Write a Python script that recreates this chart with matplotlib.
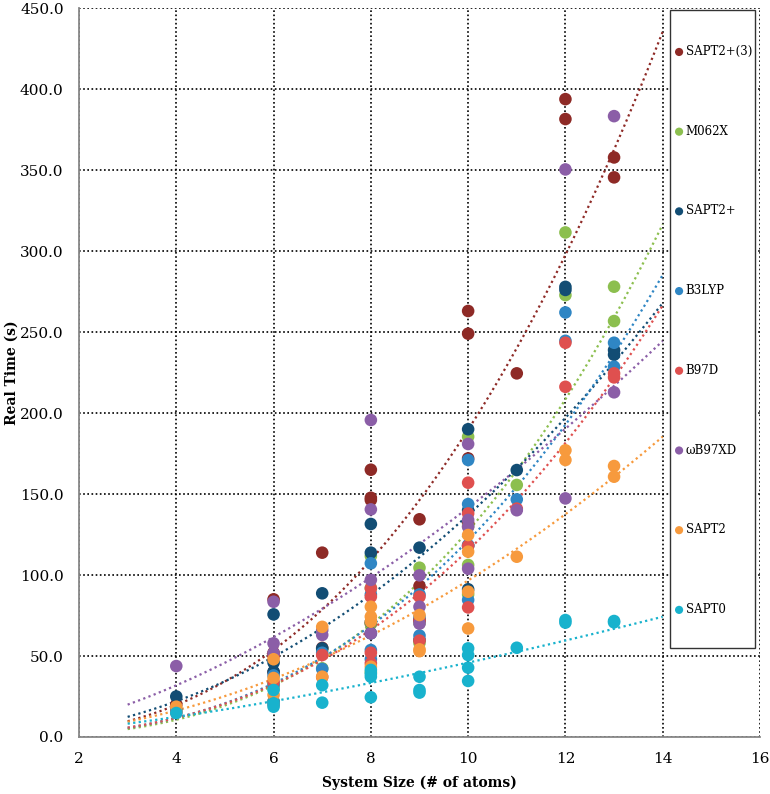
import numpy as np
import matplotlib.pyplot as plt
import matplotlib as mpl
from matplotlib.patches import Rectangle

mpl.rcParams["font.family"] = ["DejaVu Serif"]

# system sizes (x) and real times (y) per method
methods = ["SAPT2+(3)", "M062X", "SAPT2+", "B3LYP", "B97D", "\u03c9B97XD", "SAPT2", "SAPT0"]
colors = ["#8e2a26", "#8cbf4f", "#124d74", "#2f86c4", "#df504f", "#8b5ea7", "#f79a3d", "#18b2cd"]

sizes = [4, 6, 6, 6, 7, 7, 8, 8, 8, 8, 9, 9, 9, 10, 10, 10, 10, 11, 12, 12, 13, 13]

sapt2p3 = [20, 85, 52, 40, 113.8, 55, 165, 147.7, 146.3, 70, 134.4, 93.2, 72,
           263, 249, 172, 132, 224.5, 393.8, 381.5, 357.8, 345.5]
m062x = [16, 33, 30, 22, 54, 42.4, 111.7, 92, 70, 40, 104.5, 70.2, 58,
         185.4, 130, 106.2, 88, 155.6, 311.5, 272.8, 278, 256.8]
sapt2p = [25, 75.7, 45.9, 40.3, 88.7, 54.7, 131.5, 113.8, 71, 64, 116.9, 72.2, 60,
          190, 140, 118, 91.2, 164.8, 277.9, 276, 238.9, 236]
b3lyp = [17, 38, 32, 22, 52, 42, 107.2, 88, 53.7, 48, 88, 74, 62.6,
         171, 143.8, 118.5, 84.6, 146.7, 262.1, 244.6, 243.4, 228.6]
b97d = [15, 50, 34, 20, 50.6, 37, 91.8, 86.6, 52, 45.5, 86.6, 72, 59.5,
        157, 138, 118, 80, 141, 243.4, 216.2, 224.5, 222]
wb97xd = [43.8, 83.5, 57.8, 51.8, 66, 63, 195.7, 140.5, 97, 64, 99.8, 80.4, 70,
          180.9, 134, 129.8, 103.9, 140, 350.4, 147.3, 383.3, 212.8]
sapt2 = [18.7, 48, 36.4, 26, 68, 37.2, 80.4, 74.3, 71.2, 43.4, 75.3, 54.1, 53,
         124.7, 114.4, 89.7, 67, 111.3, 177, 171, 167.3, 160.7]
sapt0 = [14.8, 29, 20.8, 18.7, 32, 21.2, 41.4, 39, 37.2, 24.5, 37.2, 29, 27.4,
         54.7, 50.6, 42.8, 34.6, 55.1, 72.2, 70.6, 71.6, 70.8]

series = [sapt2p3, m062x, sapt2p, b3lyp, b97d, wb97xd, sapt2, sapt0]

fig = plt.figure(figsize=(7.7, 7.94), dpi=100)
ax = fig.add_axes([0.1026, 0.0718, 0.8844, 0.918])

x = np.array(sizes, dtype=float)
xfit = np.linspace(3, 14, 200)
handles = []
for name, col, ys in zip(methods, colors, series):
    ys = np.array(ys, dtype=float)
    h = ax.scatter(x, ys, s=82, color=col, edgecolors="none", zorder=3, label=name)
    handles.append(h)
    # power-law trendline fitted to the points
    p, lna = np.polyfit(np.log(x), np.log(ys), 1)
    ax.plot(xfit, np.exp(lna) * xfit ** p, linestyle=(0, (1, 1.5)),
            color=col, linewidth=1.6, zorder=2)

ax.set_xlim(2, 16)
ax.set_ylim(0, 450)
ax.set_xticks(np.arange(2, 17, 2))
ax.set_yticks(np.arange(0, 451, 50))
ax.yaxis.set_major_formatter(mpl.ticker.FormatStrFormatter("%.1f"))
ax.tick_params(length=0, labelsize=11)
ax.tick_params(axis="y", pad=11)
ax.tick_params(axis="x", pad=11)
ax.grid(True, color="black", linestyle=(0, (1, 1.5)), linewidth=1.2, zorder=0)
ax.set_axisbelow(True)
for s in ("top", "right"):
    ax.spines[s].set_visible(False)
for s in ("left", "bottom"):
    ax.spines[s].set_color("#888888")
    ax.spines[s].set_linewidth(1.3)

ax.set_xlabel("System Size (# of atoms)", fontweight="bold", fontsize=10)
ax.set_ylabel("Real Time (s)", fontweight="bold", fontsize=10)
ax.xaxis.set_label_coords(0.5, -0.053)
ax.yaxis.set_label_coords(-0.088, 0.5)

# legend frame drawn as its own box, entries spread down it
x0, y0, x1, y1 = 0.868, 0.122, 0.9927, 0.9973
ax.add_patch(Rectangle((x0, y0), x1 - x0, y1 - y0, transform=ax.transAxes,
                       facecolor="white", edgecolor="#333333", linewidth=1.0, zorder=4))
leg = ax.legend(handles=handles, loc="center", bbox_to_anchor=((x0 + x1) / 2, (y0 + y1) / 2 - 0.002),
                frameon=False, fontsize=8.5, labelspacing=5.65,
                handletextpad=0.05, handlelength=1.0, borderpad=0.2,
                markerscale=0.65, scatterpoints=1)
leg.set_zorder(5)

fig.savefig("out.png", dpi=100)
